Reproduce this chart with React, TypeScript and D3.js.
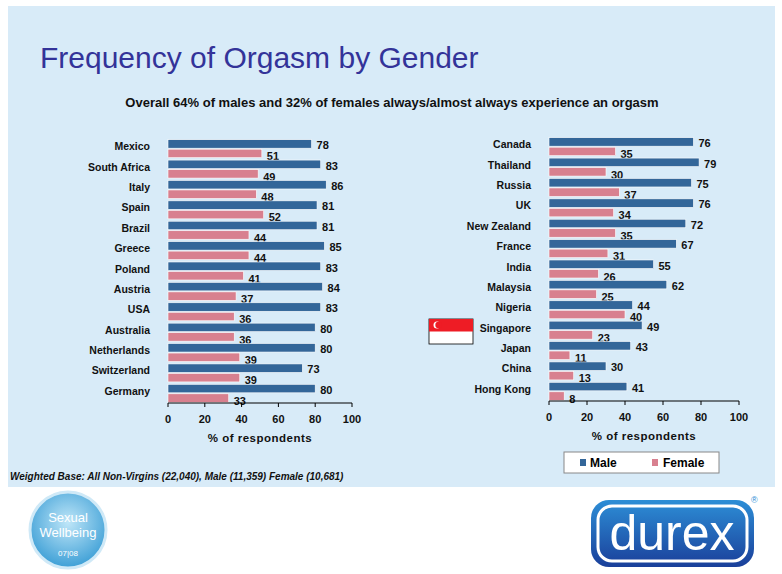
import * as d3 from "d3";

const leftCountries = ["Mexico", "South Africa", "Italy", "Spain", "Brazil", "Greece", "Poland", "Austria", "USA", "Australia", "Netherlands", "Switzerland", "Germany"];
const leftMale = [78, 83, 86, 81, 81, 85, 83, 84, 83, 80, 80, 73, 80];
const leftFemale = [51, 49, 48, 52, 44, 44, 41, 37, 36, 36, 39, 39, 33];

const rightCountries = ["Canada", "Thailand", "Russia", "UK", "New Zealand", "France", "India", "Malaysia", "Nigeria", "Singapore", "Japan", "China", "Hong Kong"];
const rightMale = [76, 79, 75, 76, 72, 67, 55, 62, 44, 49, 43, 30, 41];
const rightFemale = [35, 30, 37, 34, 35, 31, 26, 25, 40, 23, 11, 13, 8];

const ticks = [0, 20, 40, 60, 80, 100];
const MALE = "#336699";
const FEMALE = "#d8808f";
const FONT = "Liberation Sans, Arial, sans-serif";

function Panel({ countries, male, female, x0, x1, y0, y1 }: any) {
  const x = d3.scaleLinear().domain([0, 100]).range([x0, x1]);
  const y = d3.scaleBand().domain(countries).range([y0, y1]);
  const bh = 8.5;
  return (
    <g fontFamily={FONT} fontWeight="bold">
      {countries.map((c: string, i: number) => {
        const yy = y(c)!;
        const mid = yy + y.bandwidth() / 2;
        return (
          <g key={c}>
            <text x={x0 - 18} y={mid + 2} textAnchor="end" fontSize={10.5} fill="#111">{c}</text>
            <rect x={x(0)} y={mid - bh} width={x(male[i]) - x(0)} height={bh} fill={MALE} stroke="#fff" strokeWidth={0.6} />
            <rect x={x(0)} y={mid + 1} width={x(female[i]) - x(0)} height={bh} fill={FEMALE} stroke="#fff" strokeWidth={0.6} />
            <text x={x(male[i]) + 5} y={mid + 1} fontSize={11} fill="#111">{male[i]}</text>
            <text x={x(female[i]) + 5} y={mid + 12} fontSize={11} fill="#111">{female[i]}</text>
          </g>
        );
      })}
      <line x1={x0} x2={x1} y1={y1} y2={y1} stroke="#000" />
      {ticks.map((t) => (
        <g key={t}>
          <line x1={x(t)} x2={x(t)} y1={y1} y2={y1 + 4} stroke="#000" />
          <text x={x(t)} y={y1 + 20} textAnchor="middle" fontSize={11} fill="#111">{t}</text>
        </g>
      ))}
      <text x={(x0 + x1) / 2} y={y1 + 39} textAnchor="middle" fontSize={11.5} letterSpacing={0.5} fill="#111">% of respondents</text>
    </g>
  );
}

export default function App() {
  return (
    <svg width={782} height={574} style={{ position: "absolute", left: 0, top: 0 }}>
      <rect width={782} height={574} fill="#fff" />
      <rect x={8} y={6} width={767} height={481} fill="#d8ebf8" />
      <text x={40} y={68} fontFamily={FONT} fontSize={30} fill="#333399">Frequency of Orgasm by Gender</text>
      <text x={392} y={107} textAnchor="middle" fontFamily={FONT} fontWeight="bold" fontSize={13} fill="#111">Overall 64% of males and 32% of females always/almost always experience an orgasm</text>
      <Panel countries={leftCountries} male={leftMale} female={leftFemale} x0={168} x1={352} y0={138} y1={403} />
      <Panel countries={rightCountries} male={rightMale} female={rightFemale} x0={549} x1={739} y0={136} y1={401} />
      {/* Singapore flag */}
      <rect x={429} y={319} width={44} height={25} fill="#fff" stroke="#000" strokeWidth={0.8} />
      <rect x={429} y={319} width={44} height={12.5} fill="#ee1c25" />
      <circle cx={437} cy={325} r={3.5} fill="#fff" />
      <circle cx={438.5} cy={325} r={3.2} fill="#ee1c25" />
      {/* legend */}
      <rect x={564} y={452} width={155} height={21} fill="#fff" stroke="#888" />
      <rect x={580} y={459} width={6} height={7} fill={MALE} />
      <text x={590} y={467} fontFamily={FONT} fontWeight="bold" fontSize={12}>Male</text>
      <rect x={652} y={459} width={6} height={7} fill={FEMALE} />
      <text x={663} y={467} fontFamily={FONT} fontWeight="bold" fontSize={12}>Female</text>
      <text x={10} y={480} fontFamily={FONT} fontWeight="bold" fontStyle="italic" fontSize={10} fill="#111">Weighted Base: All Non-Virgins (22,040), Male (11,359) Female (10,681)</text>
      {/* logos */}
      <defs>
        <radialGradient id="sw" cx="0.5" cy="0.4" r="0.6">
          <stop offset="0" stopColor="#bfe6f8" />
          <stop offset="1" stopColor="#3d9fd6" />
        </radialGradient>
        <linearGradient id="dx" x1="0" y1="0" x2="0" y2="1">
          <stop offset="0" stopColor="#2d8ed6" />
          <stop offset="1" stopColor="#1a3f9a" />
        </linearGradient>
      </defs>
      <circle cx={68} cy={530} r={38} fill="url(#sw)" stroke="#cfe9f7" strokeWidth={3} />
      <text x={68} y={522} textAnchor="middle" fontFamily={FONT} fontSize={13} fill="#fff">Sexual</text>
      <text x={68} y={537} textAnchor="middle" fontFamily={FONT} fontSize={13} fill="#fff">Wellbeing</text>
      <text x={68} y={556} textAnchor="middle" fontFamily={FONT} fontSize={8} fill="#fff">07|08</text>
      <rect x={591} y={500} width={163} height={67} rx={18} fill="url(#dx)" />
      <rect x={598} y={506} width={149} height={55} rx={14} fill="none" stroke="#fff" strokeWidth={3} />
      <text x={672} y={550} textAnchor="middle" fontFamily={FONT} fontSize={50} fill="#fff">durex</text>
      <text x={751} y={503} fontFamily={FONT} fontSize={9} fill="#2d8ed6">®</text>
    </svg>
  );
}
